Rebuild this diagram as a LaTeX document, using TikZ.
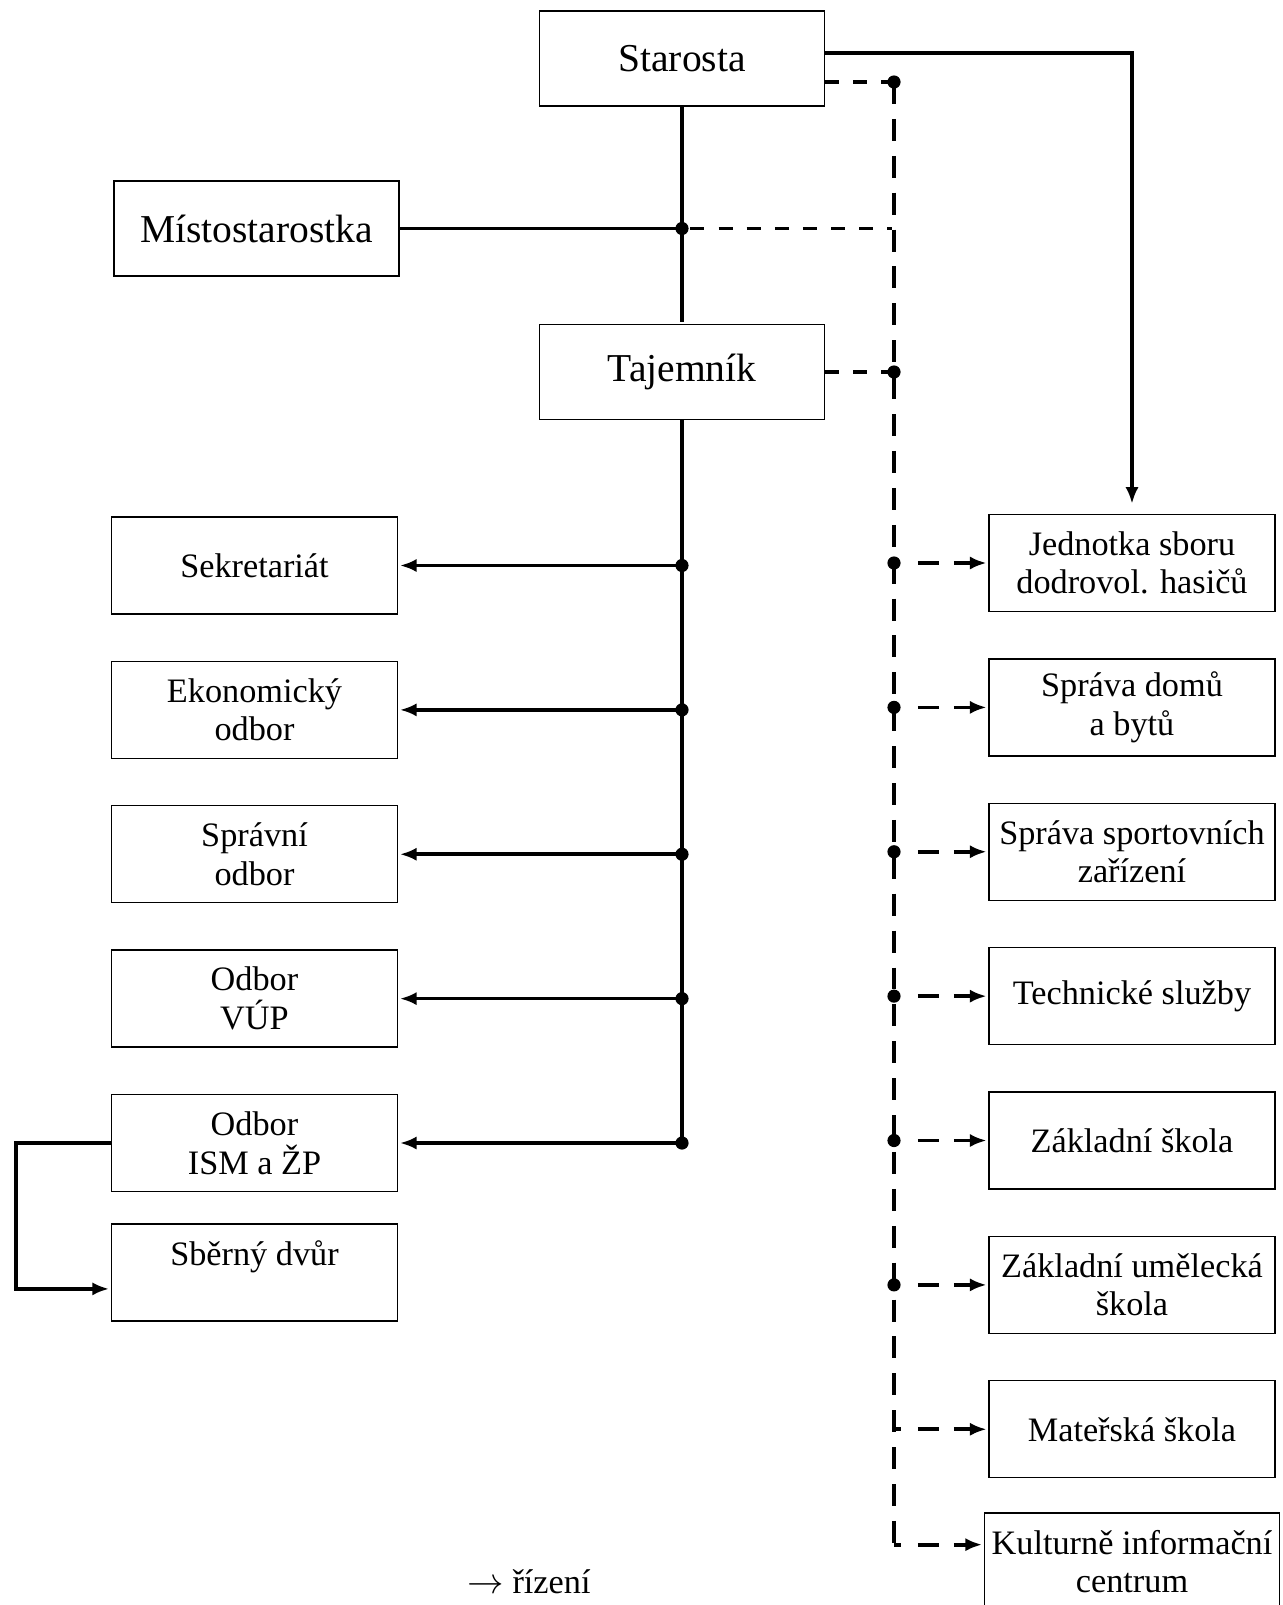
\documentclass[tikz,border=0pt]{standalone}
\usepackage{fontspec}
\setmainfont{Liberation Serif}
\usetikzlibrary{positioning}
\usetikzlibrary{arrows.meta}
\usetikzlibrary{calc}

\begin{document}
\begin{tikzpicture}[x=0.02cm,y=-0.02cm,>={Latex[length=9.5pt,width=7.5pt]},shorten >=1pt,node distance=0.92cm,
	box/.style={draw,line width=0.8pt,minimum width=5.72cm,minimum height=1.94cm,
		align=center,inner sep=2pt,font=\fontsize{19.5}{22}\selectfont},
	head/.style={box,minimum width=5.7cm,minimum height=1.9cm,font=\fontsize{22.5}{27}\selectfont},
	dot/.style={circle,fill,inner sep=0pt,minimum size=7.5pt},
	main line/.style={line width=2.1pt},
	dash line/.style={line width=2.1pt,dash pattern=on 8pt off 8pt},
	dash spine/.style={line width=2.1pt,dash pattern=on 12.5pt off 8.5pt},
	dash arrow/.style={line width=2.1pt,->,shorten <=13.6pt,
		dash pattern=on 12pt off 8.5pt on 40pt off 1pt},
	dash corner/.style={dash arrow,shorten <=0pt,
		dash pattern=on 4pt off 9.6pt on 12pt off 8.5pt on 40pt off 1pt}]
	
	\useasboundingbox (0,0) rectangle (1282,1605);
	
	% vedeni
	\node[head] (starosta) at (682,58.5) {Starosta};
	\node[head] (misto) at (256.5,228.5) {Místostarostka};
	\node[head] (tajemnik) at (682,372) {Tajemník};
	
	% odbory
	\node[box] (sekr) at (254.5,565.5) {Sekretariát};
	\node[box] (ekon) [below=of sekr] {Ekonomický\\odbor};
	\node[box] (sprav) [below=of ekon] {Správní\\odbor};
	\node[box] (vup) [below=of sprav] {Odbor\\VÚP};
	\node[box] (ism) [below=of vup] {Odbor\\ISM a ŽP};
	\node[box] (sberny) [below=0.62cm of ism] {Sběrný dvůr\\\mbox{}};
	
	% organizace
	\node[box] (hasici) at (1132,563) {Jednotka sboru\\dodrovol. hasičů};
	\node[box] (domy) [below=of hasici] {Správa domů\\a bytů};
	\node[box] (sport) [below=of domy] {Správa sportovních\\zařízení};
	\node[box] (ts) [below=of sport] {Technické služby};
	\node[box] (zs) [below=of ts] {Základní škola};
	\node[box] (zus) [below=of zs] {Základní umělecká\\škola};
	\node[box] (ms) [below=of zus] {Mateřská škola};
	\node[box,minimum width=5.9cm] (kic) [below=0.68cm of ms] {Kulturně informační\\centrum};
	
	\node (legend) at (529,1582) {\fontsize{19.5}{22}\selectfont$\rightarrow$\ řízení};
	
	% plne cary
	\draw[main line] (starosta.south) -- (tajemnik.north);
	\draw[main line] (misto.east) -- (starosta.south |- misto.east) node[dot] (mdot) {};
	\draw[main line] (tajemnik.south) -- (tajemnik.south |- ism.east);
	\foreach \n in {sekr,ekon,sprav,vup,ism}
		\draw[main line,->] (tajemnik.south |- \n.east) node[dot] {} -- (\n.east);
	\draw[main line,->] (ism.west) -- ++(-95,0) |- ([yshift=-0.33cm]sberny.west);
	\draw[main line,->,shorten >=0.2cm] ([yshift=0.11cm]starosta.east) -| (hasici.north);
	
	% carkovane cary
	\coordinate (dtop) at (894,82);
	\coordinate (dbot) at ($(dtop |- kic.west)+(0,-17)$);
	\draw[dash spine] (dtop) -- (dbot);
	\draw[dash line] (starosta.east |- dtop) -- (dtop) node[dot] {};
	\draw[dash line] (tajemnik.east) -- (dtop |- tajemnik.east) node[dot] {};
	\draw[dash line] (mdot) -- (dtop |- mdot);
	\foreach \n in {hasici,domy,sport,ts,zs,zus}
		\draw[dash arrow] (dtop |- \n.west) node[dot] {} -- (\n.west);
	\draw[dash corner] (dtop |- ms.west) -- (ms.west);
	\draw[dash corner] (dbot) -- (dbot -| kic.west);
\end{tikzpicture}
\end{document}
